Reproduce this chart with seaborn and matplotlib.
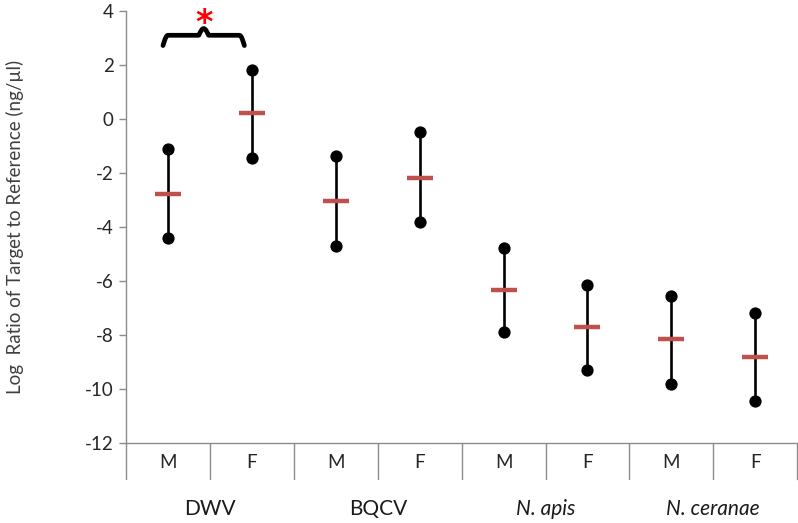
import numpy as np
import pandas as pd
import seaborn as sns
import matplotlib.pyplot as plt
import matplotlib.transforms as mtransforms

# values
groups = ["DWV", "BQCV", "N. apis", "N. ceranae"]
sexes = ["M", "F", "M", "F", "M", "F", "M", "F"]
upper = [-1.11, 1.83, -1.38, -0.47, -4.77, -6.14, -6.56, -7.20]
lower = [-4.40, -1.44, -4.69, -3.81, -7.90, -9.29, -9.80, -10.44]
means = [-2.78, 0.22, -3.04, -2.17, -6.33, -7.70, -8.15, -8.83]

sns.set_style("white")
plt.rcParams['font.family'] = ['Lato', 'DejaVu Sans']

pos = np.arange(len(sexes))
df = pd.DataFrame({
    "pos": np.concatenate([pos, pos]),
    "val": upper + lower,
    "unit": np.concatenate([pos, pos]),
})
df_mean = pd.DataFrame({"pos": pos, "val": means})

fig = plt.figure(figsize=(7.98, 5.23), dpi=100)
ax = fig.add_axes([0.158, 0.153, 0.841, 0.826])

# range lines, end points and means
sns.lineplot(data=df, x="pos", y="val", units="unit", estimator=None,
             color="black", lw=1.9, ax=ax, legend=False)
sns.scatterplot(data=df, x="pos", y="val", color="black", s=78,
                edgecolor="black", linewidth=0, ax=ax, zorder=3, legend=False)
sns.scatterplot(data=df_mean, x="pos", y="val", marker="_", s=340,
                color="#c0504d", linewidth=3.2, ax=ax, zorder=4, legend=False)

ax.set_ylim(-12, 4)
ax.set_xlim(-0.5, len(sexes) - 0.5)
ax.set_yticks(np.arange(-12, 5, 2))
ax.set_yticklabels([str(v) for v in np.arange(-12, 5, 2)], fontsize=13.5, color="#262626")
ax.tick_params(axis="y", length=5, color="#8c8c8c", width=1, pad=4, left=True)
ax.set_xticks(pos)
ax.set_xticklabels(sexes, fontsize=13.5, color="#262626")
ax.tick_params(axis="x", length=0, pad=8)
ax.set_xlabel("")
ax.set_ylabel("Log  Ratio of Target to Reference (ng/µl)", fontsize=13.5,
              color="#404040")
ax.yaxis.set_label_coords(-0.152, 0.5)

for s in ["top", "right"]:
    ax.spines[s].set_visible(False)
for s in ["left", "bottom"]:
    ax.spines[s].set_color("#8c8c8c")
    ax.spines[s].set_linewidth(1)

# category separators below the axis (Excel style)
trans = mtransforms.blended_transform_factory(ax.transData, ax.transAxes)
for b in np.arange(-0.5, len(sexes), 1.0):
    ax.plot([b, b], [0, -0.083], transform=trans, color="#8c8c8c", lw=1,
            clip_on=False)

# group labels
for i, g in enumerate(groups):
    style = "italic" if g.startswith("N.") else "normal"
    ax.text(2 * i + 0.5, -0.152, g, transform=trans, ha="center", va="center",
            fontsize=15, style=style, color="#1a1a1a")

# brace with significance star over DWV
x0, x1 = pos[0] - 0.06, pos[1] - 0.09
xm = (x0 + x1) / 2
t = np.linspace(0, 1, 60)
hw = (x1 - x0) / 2
base, tip, hook = 3.1, 3.35, 2.72
left_x = x0 + hw * t
left_y = np.where(t < 0.12, hook + (base - hook) * np.sin(t / 0.12 * np.pi / 2), base)
left_y = np.where(t > 0.88, base + (tip - base) * np.sin((t - 0.88) / 0.12 * np.pi / 2), left_y)
bx = np.concatenate([left_x, 2 * xm - left_x[::-1]])
by = np.concatenate([left_y, left_y[::-1]])
ax.plot(bx, by, color="black", lw=3.4, clip_on=False, solid_capstyle="round")
ax.text(xm, 3.55, "*", color="red", fontsize=24, fontweight="bold",
        ha="center", va="center", family="DejaVu Sans")

fig.savefig("out.png", dpi=100)
